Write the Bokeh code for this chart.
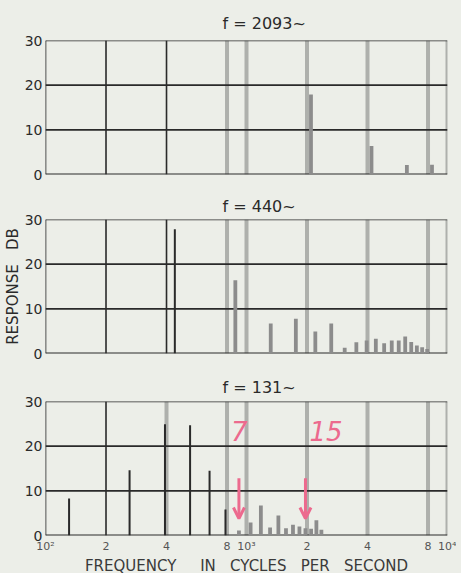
from bokeh.plotting import figure
from bokeh.models import Range1d, Span, FixedTicker, Arrow, OpenHead
from bokeh.layouts import column
from bokeh.embed import file_html
from bokeh.resources import INLINE
from bokeh.core.properties import value

# ---------------- data ----------------
panel_titles = ["f = 2093~", "f = 440~", "f = 131~"]

fund_top = 2093
harm_top = [1, 2, 3, 4]
db_top = [17.9, 6.4, 2.1, 2.2]

fund_mid = 440
harm_mid = [1, 2, 3, 4, 5, 6, 7, 8, 9, 10, 11, 12, 13, 14, 15, 16, 17, 18]
db_mid = [27.8, 16.4, 6.7, 7.8, 4.9, 6.7, 1.3, 2.5, 2.9, 3.3, 2.3, 2.9, 2.9, 3.8, 2.6, 1.8, 1.4, 1.0]

fund_bot = 131
harm_bot = [1, 2, 3, 4, 5, 6, 7, 8, 9, 10, 11, 12, 13, 14, 15, 16, 17, 18]
db_bot = [8.3, 14.6, 24.9, 24.7, 14.5, 5.8, 1.1, 2.9, 6.7, 1.8, 4.5, 1.6, 2.4, 2.0, 1.6, 1.5, 3.4, 1.3]

y_ticks = [0, 10, 20, 30]
x_ticks = [100, 200, 400, 800, 1000, 2000, 4000, 8000, 10000]
x_tick_labels = ["10²", "2", "4", "8", "10³", "2", "4", "8", "10⁴"]

marked_harmonics = [7, 15]
marked_labels = ["7", "15"]

NB = "\u00a0"
x_label = "FREQUENCY" + NB * 5 + "IN" + NB * 3 + "CYCLES" + NB * 3 + "PER" + NB * 3 + "SECOND"
y_label = "RESPONSE" + NB * 3 + "DB"

# ---------------- style ----------------
PAPER = "#eceee8"
INK = "#2a2a2a"
GREY_LINE = "#aeb0ac"
GREY_BAR = "#8c8c8c"
PINK = "#ec6a8e"
FONT = "DejaVu Sans"


def make_panel(title, fund, harm, db, dark_lines, top, bottom, show_x, ylabel, title_gap):
    p = figure(frame_width=402, frame_height=134, x_axis_type="log",
               x_range=Range1d(100, 10000), y_range=Range1d(0, 30),
               output_backend="svg", toolbar_location=None,
               min_border_left=40, min_border_right=14,
               min_border_top=top, min_border_bottom=bottom,
               background_fill_color=PAPER, border_fill_color=PAPER,
               outline_line_color=None, title=title)
    p.title.align = "left"
    p.title.offset = 177
    p.title.text_font = FONT
    p.title.text_font_size = "16px"
    p.title.text_font_style = "normal"
    p.title.text_color = INK
    p.title.standoff = title_gap

    p.xgrid.visible = False
    p.ygrid.visible = False

    # vertical rules
    for xv in x_ticks:
        if xv in dark_lines:
            s = Span(location=xv, dimension="height", line_color=INK, line_width=1.6)
        else:
            s = Span(location=xv, dimension="height", line_color=GREY_LINE, line_width=4)
        s.level = "underlay"
        p.add_layout(s)
    for yv in y_ticks:
        s = Span(location=yv, dimension="width", line_color=INK,
                 line_width=2 if yv == 0 else 1.6)
        s.level = "underlay"
        p.add_layout(s)

    freqs = [fund * n for n in harm]
    colors = [INK if f < 790 else GREY_BAR for f in freqs]
    widths = [2 if f < 790 else 3.8 for f in freqs]
    p.segment(x0=freqs, y0=[0] * len(freqs), x1=freqs, y1=db,
              line_color=colors, line_width=widths, line_cap="butt")

    ya = p.yaxis[0]
    ya.ticker = FixedTicker(ticks=y_ticks)
    ya.axis_line_color = None
    ya.major_tick_line_color = None
    ya.minor_tick_line_color = None
    ya.major_tick_out = 0
    ya.major_tick_in = 0
    ya.major_label_standoff = 3
    ya.major_label_text_font = FONT
    ya.major_label_text_font_size = "14px"
    ya.major_label_text_color = INK
    if ylabel:
        ya.axis_label = ylabel
        ya.axis_label_text_font = FONT
        ya.axis_label_text_font_size = "15px"
        ya.axis_label_text_font_style = "normal"
        ya.axis_label_text_color = INK
        ya.axis_label_standoff = 0

    xa = p.xaxis[0]
    if show_x:
        xa.ticker = FixedTicker(ticks=x_ticks)
        xa.major_label_overrides = {t: l for t, l in zip(x_ticks, x_tick_labels)}
        xa.axis_line_color = None
        xa.major_tick_line_color = None
        xa.minor_tick_line_color = None
        xa.major_tick_out = 0
        xa.major_tick_in = 0
        xa.major_label_standoff = 4
        xa.major_label_text_font = FONT
        xa.major_label_text_font_size = "11px"
        xa.major_label_text_color = "#555555"
        xa.axis_label = x_label
        xa.axis_label_text_font = FONT
        xa.axis_label_text_font_size = "15px"
        xa.axis_label_text_font_style = "normal"
        xa.axis_label_text_color = "#3a3a3a"
        xa.axis_label_standoff = 1
    else:
        xa.visible = False
    return p


p1 = make_panel(panel_titles[0], fund_top, harm_top, db_top, [100, 200, 400], 40, 16, False, None, 15)
p2 = make_panel(panel_titles[1], fund_mid, harm_mid, db_mid, [100, 200, 400], 28, 17, False, y_label, 8)
p3 = make_panel(panel_titles[2], fund_bot, harm_bot, db_bot, [100, 200], 30, 30, True, None, 10)

# pink hand annotations on the lower panel
mark_f = [fund_bot * n for n in marked_harmonics]
p3.text(x=mark_f, y=[23.5, 23.5], text=marked_labels, text_color=PINK,
        text_font=value(FONT), text_font_size="26px", text_font_style="italic",
        text_align="left", text_baseline="middle", x_offset=[-8, 4])
for f in mark_f:
    p3.add_layout(Arrow(end=OpenHead(line_color=PINK, line_width=3, size=11),
                        x_start=f, y_start=12.8, x_end=f, y_end=3.8,
                        line_color=PINK, line_width=3))

layout = column(p1, p2, p3, spacing=0, styles={"background-color": PAPER})
open("out.html", "w").write(file_html(layout, INLINE))
